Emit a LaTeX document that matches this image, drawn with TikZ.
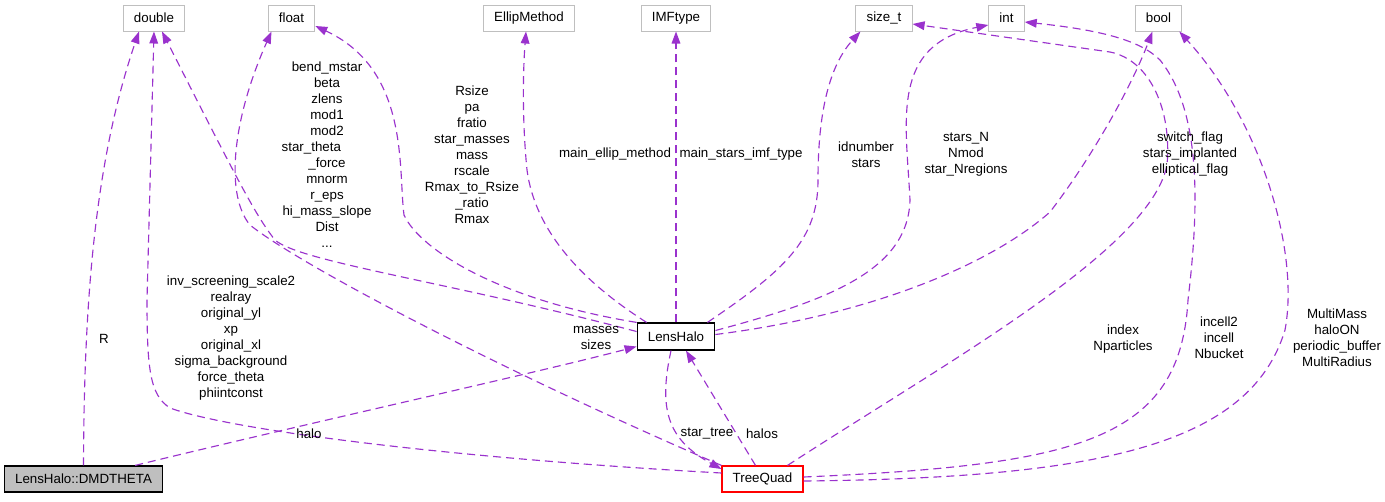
\documentclass[tikz,border=0pt]{standalone}
\usepackage{fontspec}
\setmainfont{Liberation Sans}
\usepackage{xcolor}
\usetikzlibrary{arrows.meta, calc}
\definecolor{edgepurple}{HTML}{9A32CD}
\definecolor{boxgray}{HTML}{BFBFBF}
\definecolor{boxred}{HTML}{FF0000}
\tikzset{
  typebox/.style={
    draw=boxgray, fill=white, line width=0.75pt, inner xsep=8pt, inner ysep=0pt,
    minimum height=19.5pt, font=\fontsize{10}{12}\selectfont
  },
  classbox/.style={
    draw=black, fill=white, line width=0.9pt, inner xsep=8pt, inner ysep=0pt,
    minimum height=19.5pt, font=\fontsize{10}{12}\selectfont
  },
  uselabel/.style={
    font=\fontsize{10}{12}\selectfont, align=center, inner sep=0pt
  },
}

\begin{document}
\begin{tikzpicture}[
  x=0.75pt, y=-0.75pt,
  usearrow/.style={-{Triangle[length=9pt,width=6.5pt]}, color=edgepurple, line width=0.85pt, dash pattern=on 6pt off 3.75pt},
]
  \path[fill=white] (0,0) rectangle (1385,501);
  \useasboundingbox (0,0) rectangle (1385,501);

  % --- Member types ---
  \node[typebox] (double) at (154,18) {double};
  \node[typebox] (float) at (291.5,18) {float};
  \node[typebox] (ellip) at (529,18) {EllipMethod};
  \node[typebox] (imftype) at (676,18) {IMFtype};
  \node[typebox] (sizet) at (884,18) {size\_t};
  \node[typebox] (int) at (1006.5,18) {int};
  \node[typebox] (bool) at (1158.5,18) {bool};

  % --- Classes ---
  \node[classbox, minimum height=20.25pt] (lenshalo) at (676,336.5) {LensHalo};
  \node[classbox, fill=boxgray] (dmdtheta) at (83.5,479) {LensHalo::DMDTHETA};
  \node[classbox, draw=boxred] (treequad) at (762.5,479) {TreeQuad};

  % --- LensHalo::DMDTHETA ---
  \draw[usearrow] (dmdtheta.north) .. controls (84,300) and (95,160) .. ($(double.south)+(-15,0)$);
  \draw[usearrow] ($(dmdtheta.north east)+(-28,0)$) .. controls (300,425) and (540,372) .. ($(lenshalo.west)+(0,10)$);

  % --- TreeQuad ---
  \draw[usearrow] ($(treequad.west)+(0,-6)$) .. controls (450,458) and (230,430) .. (170,408)
    .. controls (150,395) and (147,370) .. (147,300) -- (double.south);
  \draw[usearrow] (treequad.north west) .. controls (500,370) and (300,265) .. (250,225)
    .. controls (225,195) and (232,120) .. ($(float.south)+(-20,0)$);
  \draw[usearrow] ($(treequad.north)+(25,0)$) .. controls (950,360) and (1150,250) .. (1167,165)
    .. controls (1172,110) and (1150,60) .. (1110,52) -- ($(sizet.east)+(0,6)$);
  \draw[usearrow] ($(treequad.east)+(0,-2)$) .. controls (1080,465) and (1180,440) .. (1188,300)
    .. controls (1200,200) and (1200,110) .. (1160,60)
    .. controls (1140,40) and (1100,30) .. ($(int.east)+(0,4)$);
  \draw[usearrow] ($(treequad.east)+(0,2)$) .. controls (1100,478) and (1250,445) .. (1285,330)
    .. controls (1300,250) and (1260,120) .. ($(bool.south east)+(-3,0)$);
  \draw[usearrow] ($(treequad.north)+(-7,0)$) -- ($(lenshalo.south)+(10,0)$);

  % --- LensHalo ---
  \draw[usearrow] ($(lenshalo.west)+(0,-5)$) .. controls (450,282) and (300,262) .. (275,240)
    .. controls (255,215) and (235,175) .. ($(double.south)+(8,0)$);
  \draw[usearrow] (lenshalo.north west) .. controls (500,300) and (420,250) .. (404,215)
    .. controls (398,170) and (410,70) .. ($(float.east)+(0,8)$);
  \draw[usearrow] ($(lenshalo.north west)+(10,0)$) .. controls (580,280) and (535,230) .. (527,170)
    .. controls (522,120) and (523,70) .. ($(ellip.south)+(-3,0)$);
  \draw[usearrow] (lenshalo.north) -- (imftype.south);
  \draw[usearrow] ($(lenshalo.north east)+(-8,0)$) .. controls (785,270) and (818,240) .. (818,180)
    .. controls (818,110) and (830,65) .. ($(sizet.south west)+(5,0)$);
  \draw[usearrow] ($(lenshalo.east)+(0,-6)$) .. controls (830,300) and (908,270) .. (910,200)
    .. controls (906,120) and (890,45) .. ($(int.west)+(0,7)$);
  \draw[usearrow] ($(lenshalo.east)+(0,-2)$) .. controls (870,315) and (990,265) .. (1050,212)
    .. controls (1090,160) and (1130,90) .. ($(bool.south)+(-6,0)$);
  \draw[usearrow] ($(lenshalo.south)+(-5,0)$) .. controls (658,410) and (668,440) .. ($(treequad.west)+(0,-10)$);

  % --- Member names ---
  \node[uselabel] (lblR) at (104,339) {R};
  \node[uselabel] (lblhalo) at (309,434) {halo};
  \node[uselabel] (lblmasses) at (596,338) {masses\\sizes};
  \node[uselabel] (lbldbltq) at (231,338.5) {inv\_screening\_scale2\\realray\\original\_yl\\xp\\original\_xl\\sigma\_background\\force\_theta\\phiintconst};
  \node[uselabel] (lbldbllh) at (327,155) {bend\_mstar\\beta\\zlens\\mod1\\mod2\\\makebox[68pt][l]{star\_theta}\\\_force\\mnorm\\r\_eps\\hi\_mass\_slope\\Dist\\...};
  \node[uselabel] (lblfltlh) at (472,154.5) {Rsize\\pa\\fratio\\star\_masses\\mass\\rscale\\Rmax\_to\_Rsize\\\_ratio\\Rmax};
  \node[uselabel] (lblellip) at (615,154) {main\_ellip\_method};
  \node[uselabel] (lblimf) at (741,154) {main\_stars\_imf\_type};
  \node[uselabel] (lblszlh) at (866,155) {idnumber\\stars};
  \node[uselabel] (lblintlh) at (966,154.5) {stars\_N\\Nmod\\star\_Nregions};
  \node[uselabel] (lblboollh) at (1190,154) {switch\_flag\\stars\_implanted\\elliptical\_flag};
  \node[uselabel] (lblsztq) at (1123,339) {index\\Nparticles};
  \node[uselabel] (lblinttq) at (1219,338) {incell2\\incell\\Nbucket};
  \node[uselabel] (lblbooltq) at (1337,338) {MultiMass\\haloON\\periodic\_buffer\\MultiRadius};
  \node[uselabel] (lblstartree) at (707,434) {star\_tree};
  \node[uselabel] (lblhalos) at (762,434) {halos};
\end{tikzpicture}
\end{document}
